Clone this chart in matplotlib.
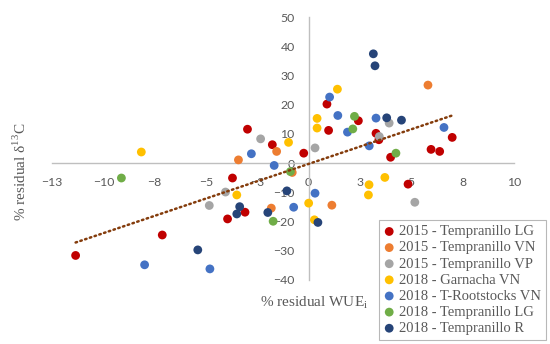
import matplotlib
matplotlib.use("Agg")
import matplotlib.pyplot as plt
import numpy as np

# residual WUEi (x) vs residual d13C (y)
lg15_x = [0.89, 0.97, 2.42, 3.28, 3.42, 3.99, 6.99, 5.96, 6.38, -0.24, -1.77, -2.98, -3.71, -3.10, -3.95, -7.13, -11.35, 4.84]
lg15_y = [20.2, 11.2, 14.5, 10.2, 8.0, 2.0, 8.8, 4.7, 4.0, 3.4, 6.3, 11.6, -5.1, -16.8, -19.1, -24.6, -31.6, -7.2]

vn15_x = [5.81, -1.56, -0.80, -3.42, 1.13, -1.82]
vn15_y = [26.7, 4.0, -3.2, 1.1, -14.4, -15.4]

vp15_x = [3.92, 3.44, 0.31, -2.34, -4.05, -4.84, 5.17]
vp15_y = [13.7, 9.1, 5.2, 8.3, -9.9, -14.5, -13.4]

garn18_x = [1.40, 0.41, 0.41, -0.98, 3.71, 2.94, 2.91, 0.0, 0.28, -3.50, -8.15]
garn18_y = [25.3, 15.3, 12.0, 7.1, -4.9, -7.4, -10.9, -13.7, -19.4, -10.9, 3.8]

root18_x = [1.02, 1.42, 1.89, 3.28, 2.95, 6.59, -1.68, -2.79, 0.31, -0.73, -4.81, -7.99]
root18_y = [22.6, 16.3, 10.6, 15.4, 5.9, 12.2, -0.8, 3.2, -10.3, -15.1, -36.2, -34.8]

lg18_x = [2.15, 2.23, 4.25, -0.89, -1.73, -9.12]
lg18_y = [11.7, 16.0, 3.4, -2.9, -19.9, -5.1]

r18_x = [3.15, 3.23, 3.80, 4.52, -1.06, 0.45, -3.36, -3.50, -1.99, -5.40]
r18_y = [37.4, 33.3, 15.5, 14.7, -9.5, -20.3, -14.9, -17.4, -16.9, -29.7]

series = [
    ("2015 - Tempranillo LG", lg15_x, lg15_y, "#C00000"),
    ("2015 - Tempranillo VN", vn15_x, vn15_y, "#ED7D31"),
    ("2015 - Tempranillo VP", vp15_x, vp15_y, "#A5A5A5"),
    ("2018 - Garnacha VN", garn18_x, garn18_y, "#FFC000"),
    ("2018 - T-Rootstocks VN", root18_x, root18_y, "#4472C4"),
    ("2018 - Tempranillo LG", lg18_x, lg18_y, "#70AD47"),
    ("2018 - Tempranillo R", r18_x, r18_y, "#264478"),
]

# linear trend line as drawn in the reference
trend_slope = 2.37
trend_intercept = -0.27

x_ticks = [-12.5, -10, -7.5, -5, -2.5, 0, 2.5, 5, 7.5, 10]
x_tick_labels = ["\u221213", "\u221210", "\u22128", "\u22125", "\u22123", "0", "3", "5", "8", "10"]
y_ticks = [-40, -30, -20, -10, 0, 10, 20, 30, 40, 50]

serif = "Liberation Serif"
grey_txt = "#595959"

fig = plt.figure(figsize=(5.5, 3.44), dpi=100)
ax = fig.add_axes([52 / 550, 64 / 344, 462 / 550, 263 / 344])

handles = []
for label, xs, ys, col in series:
    h = ax.scatter(xs, ys, s=40, color=col, edgecolors="none", zorder=3, label=label)
    handles.append(h)

all_x = np.concatenate([s[1] for s in series])
tx = np.array([all_x.min(), all_x.max()])
ax.plot(tx, trend_slope * tx + trend_intercept, color="#843C0C", linewidth=1.8,
        linestyle=(0, (0.6, 1.4)), dash_capstyle="round", zorder=4)

ax.set_xlim(-12.5, 10)
ax.set_ylim(-40, 50)

for side in ["top", "right"]:
    ax.spines[side].set_visible(False)
ax.spines["left"].set_position(("data", 0))
ax.spines["bottom"].set_position(("data", 0))
for side in ["left", "bottom"]:
    ax.spines[side].set_color("#BFBFBF")
    ax.spines[side].set_linewidth(1.0)

ax.set_xticks(x_ticks)
ax.set_xticklabels(x_tick_labels)
ax.set_yticks(y_ticks)
ax.set_yticklabels([str(v).replace("-", "\u2212") for v in y_ticks])
ax.tick_params(axis="both", length=0, labelsize=8.8, labelcolor=grey_txt)
ax.tick_params(axis="x", pad=10)
ax.tick_params(axis="y", pad=10)
for t in ax.get_xticklabels() + ax.get_yticklabels():
    t.set_fontfamily("Lato")

fig.text(314 / 550, 1 - 303 / 344, "% residual WUE$_\\mathregular{i}$", ha="center", va="center",
         fontsize=11, color=grey_txt, family=serif)
fig.text(20 / 550, 1 - 172 / 344, "% residual \u03b4$^{\\mathregular{13}}$C", ha="center", va="center",
         rotation=90, fontsize=11, color=grey_txt, family=serif)

leg = fig.legend(handles=handles, loc="upper left", bbox_to_anchor=(379 / 550, 1 - 220 / 344),
                 borderaxespad=0, frameon=True, fancybox=False, handlelength=0.7,
                 handletextpad=0.3, borderpad=0.35, labelspacing=0.2,
                 prop={"family": serif, "size": 10.5}, markerscale=1.0)
leg.get_frame().set_edgecolor("#A6A6A6")
leg.get_frame().set_linewidth(0.8)
for t in leg.get_texts():
    t.set_color(grey_txt)

fig.savefig("out.png", dpi=100)
